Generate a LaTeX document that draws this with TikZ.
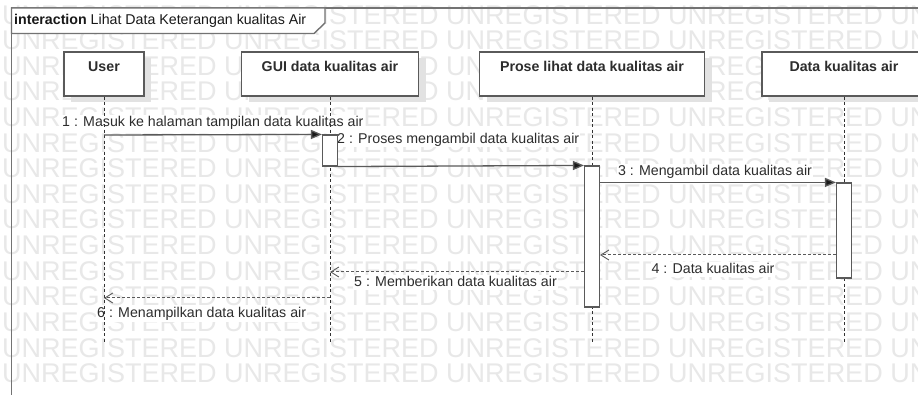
\documentclass[tikz,border=0pt]{standalone}
\usepackage{fontspec}
\setmainfont{Liberation Sans}
\usetikzlibrary{arrows.meta,calc}
\definecolor{wm}{RGB}{232,232,232}
\definecolor{ln}{RGB}{90,90,90}
\definecolor{fr}{RGB}{115,115,115}
\definecolor{tx}{RGB}{45,45,45}
\definecolor{shd}{RGB}{226,226,226}
\begin{document}
\begin{tikzpicture}[x=1pt,y=-1pt,
  wmark/.style={anchor=base west, inner sep=0pt, text=wm, font=\fontsize{27}{30}\selectfont},
  lifebox/.style={draw=ln, line width=1.1pt, fill=white, minimum height=44pt, inner sep=0pt},
  shadowbox/.style={fill=shd, draw=none, minimum height=44pt, inner sep=0pt},
  boxlabel/.style={text=tx, font=\fontsize{14.2}{16}\selectfont\bfseries, inner sep=0pt},
  actbar/.style={draw=ln, line width=1.1pt, fill=white, minimum width=15pt, inner sep=0pt},
  lifeline/.style={draw=black!80, line width=0.9pt, dash pattern=on 3pt off 2.5pt},
  call/.style={draw=ln, line width=1.3pt, -{Triangle[length=11pt,width=9pt,fill=black!90]}},
  ret/.style={draw=ln, line width=1pt, dash pattern=on 3pt off 2pt, -{Straight Barb[length=8pt,width=10pt,line width=0.9pt]}},
  msg/.style={text=tx, fill=white, inner sep=1pt, text height=10pt, text depth=3pt, font=\fontsize{14.2}{16}\selectfont},
  frame/.style={draw=fr, line width=1.4pt}
]
\useasboundingbox (0,0) rectangle (918,395);
\clip (0,0) rectangle (918,395);
\fill[white] (0,0) rectangle (918,395);

% watermark
\foreach \k in {0,...,14}{
  \node[wmark] (wm\k) at ({2},{24.2+25.6*\k}) {UNREGISTERED UNREGISTERED UNREGISTERED UNREGISTERED UNREGISTERED};
}

% frame
\draw[frame] (1000,8) -- (11.5,8) -- (11.5,420);
\draw[frame, fill=white] (11.5,8) -- (325,8) -- (325,23) -- (314,33.5) -- (11.5,33.5) -- cycle;
\node[anchor=west, inner sep=0pt, text=black!90, font=\fontsize{14.2}{16}\selectfont, text height=10pt, text depth=3pt] (title) at (14,21) {\textbf{interaction} Lihat Data Keterangan kualitas Air};

% message labels (under lifelines)
\node[msg, anchor=west] (l1) at (61,123) {1 : Masuk ke halaman tampilan data kualitas air};
\node[msg, anchor=west] (l2) at (336,140) {2 : Proses mengambil data kualitas air};
\node[msg] (l3) at (715,172) {3 : Mengambil data kualitas air};
\node[msg] (l4) at (713,270) {4 : Data kualitas air};
\node[msg, anchor=west] (l5) at (353,283) {5 : Memberikan data kualitas air};
\node[msg, anchor=west] (l6) at (96,314) {6 : Menampilkan data kualitas air};

% lifeline heads with shadows
\node[shadowbox, minimum width=80pt] (us) at (111,80) {};
\node[shadowbox, minimum width=177pt] (gs) at (337,80) {};
\node[shadowbox, minimum width=225pt] (ps) at (599,80) {};
\node[shadowbox, minimum width=164pt] (ds) at (851,80) {};
\node[lifebox, minimum width=80pt] (u) at (104,74) {};
\node[lifebox, minimum width=177pt] (g) at (330,74) {};
\node[lifebox, minimum width=225pt] (p) at (592,74) {};
\node[lifebox, minimum width=164pt] (d) at (844,74) {};
\node[boxlabel] (ut) at ($(u.north)+(0,15)$) {User};
\node[boxlabel] (gt) at ($(g.north)+(0,15)$) {GUI data kualitas air};
\node[boxlabel] (pt) at ($(p.north)+(0,15)$) {Prose lihat data kualitas air};
\node[boxlabel] (dt) at ($(d.north)+(0,15)$) {Data kualitas air};

% lifeline ends
\coordinate (ue) at (104,342);
\coordinate (ge) at (330,342);
\coordinate (pe) at (592,342);
\coordinate (de) at (844,342);
\draw[lifeline] (u.south) -- (ue);
\draw[lifeline] (g.south) -- (ge);
\draw[lifeline] (p.south) -- (pe);
\draw[lifeline] (d.south) -- (de);

% activation bars
\node[actbar, minimum height=31pt] (ga) at (330,150.5) {};
\node[actbar, minimum height=141pt] (pa) at (592,236.5) {};
\node[actbar, minimum height=95pt] (da) at (844,230.5) {};

% message coordinates
\coordinate (m1) at (104,135);
\coordinate (m4) at (0,255);
\coordinate (m5) at (0,272);
\coordinate (m6) at (0,298);

% messages
\draw[call] (m1) -- (ga.north west);
\draw[call] (ga.south east) -- (pa.north west);
\draw[call] (pa.east |- da.north) -- (da.north west);
\draw[ret] (da.west |- m4) -- (pa.east |- m4);
\draw[ret] (pa.west |- m5) -- (g.south |- m5);
\draw[ret] (g.south |- m6) -- (u.south |- m6);
\end{tikzpicture}
\end{document}
